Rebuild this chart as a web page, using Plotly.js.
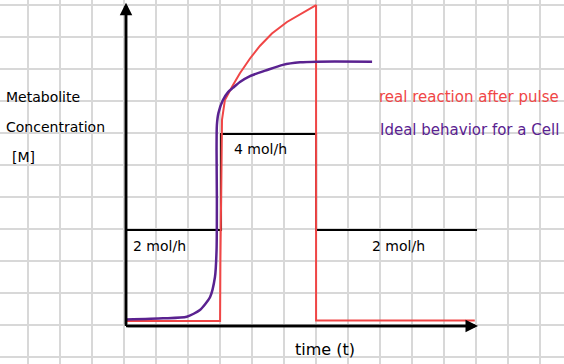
<!DOCTYPE html>
<html>
<head>
<meta charset="utf-8">
<script src="https://cdn.plot.ly/plotly-3.0.1.min.js"></script>
<style>html,body{margin:0;padding:0;background:#fff;}#chart{width:564px;height:364px;}</style>
</head>
<body>
<div id="chart"></div>
<script>
// time in grid units, concentration in grid units
const realTime = [0, 2.94, 2.95, 2.97, 3.0, 3.09, 3.22, 3.34, 3.56, 3.875, 4.19, 4.56, 5.03, 5.44, 5.94, 5.94, 10.9];
const realConc = [0.16, 0.16, 2.0, 3.94, 6.44, 7.06, 7.31, 7.52, 7.9, 8.36, 8.76, 9.14, 9.5, 9.75, 10.03, 0.17, 0.17];

const idealTime = [0, 1.16, 1.9, 2.31, 2.625, 2.78, 2.83, 2.84, 2.83, 2.84, 2.89, 3.03, 3.19, 3.34, 3.56, 3.875, 4.41, 4.9, 5.44, 5.97, 7.69];
const idealConc = [0.2, 0.24, 0.29, 0.5, 0.9, 1.53, 2.375, 3.94, 5.5, 6.28, 6.66, 7.06, 7.31, 7.44, 7.625, 7.81, 8.0, 8.16, 8.24, 8.26, 8.26];

const feedTime = [0, 2.97, 2.97, 5.94, 5.94, 10.97];
const feedLevel = [3.0, 3.0, 6.0, 6.0, 3.0, 3.0];

const feedLabels = ["2 mol/h", "4 mol/h", "2 mol/h"];
const seriesNames = ["real reaction after pulse", "Ideal behavior for a Cell"];
const yLabelLines = ["Metabolite", "Concentration", "[M]"];
const xLabel = "time (t)";

const RED = "#f04646";
const PURPLE = "#5a2290";
const FONT = "'DejaVu Sans', sans-serif";

const traces = [
  {x: feedTime, y: feedLevel, mode: "lines", line: {color: "#000", width: 2}, hoverinfo: "skip"},
  {x: realTime, y: realConc, mode: "lines", line: {color: RED, width: 2}, hoverinfo: "skip"},
  {x: idealTime, y: idealConc, mode: "lines", line: {color: PURPLE, width: 2.5, shape: "spline", smoothing: 0.6}, hoverinfo: "skip"}
];

const ann = [];
// axes arrows
ann.push({x: 11.0, y: 0, ax: 0, ay: 0, axref: "x", ayref: "y", xref: "x", yref: "y", showarrow: true, arrowhead: 2, arrowsize: 1, arrowwidth: 2.5, arrowcolor: "#000", text: ""});
ann.push({x: 0, y: 10.1, ax: 0, ay: 0, axref: "x", ayref: "y", xref: "x", yref: "y", showarrow: true, arrowhead: 2, arrowsize: 1, arrowwidth: 2.5, arrowcolor: "#000", text: ""});
// y label
const yl = [[-3.8, 7.16], [-3.8, 6.22], [-3.64, 5.28]];
yLabelLines.forEach((t, i) => ann.push({x: yl[i][0], y: yl[i][1], xref: "x", yref: "y", text: t, showarrow: false, xanchor: "left", font: {family: FONT, size: 14, color: "#000"}}));
// legend labels
ann.push({x: 13.6, y: 7.16, xref: "x", yref: "y", text: seriesNames[0], showarrow: false, xanchor: "right", font: {family: FONT, size: 15, color: RED}});
ann.push({x: 13.6, y: 6.125, xref: "x", yref: "y", text: seriesNames[1], showarrow: false, xanchor: "right", font: {family: FONT, size: 15, color: PURPLE}});
// feed labels
const fl = [[1.06, 2.5], [4.19, 5.53], [8.5, 2.5]];
feedLabels.forEach((t, i) => ann.push({x: fl[i][0], y: fl[i][1], xref: "x", yref: "y", text: t, showarrow: false, font: {family: FONT, size: 14, color: "#000"}}));
ann.push({x: 6.22, y: -0.72, xref: "x", yref: "y", text: xLabel, showarrow: false, font: {family: FONT, size: 16, color: "#000"}});

const layout = {
  width: 564, height: 364,
  margin: {l: 0, r: 0, t: 0, b: 0, pad: 0},
  paper_bgcolor: "#fff", plot_bgcolor: "#fff",
  showlegend: false,
  xaxis: {range: [-3.9375, 13.6875], tick0: -0.0625, dtick: 1, showgrid: true, gridcolor: "#d8d8d8", gridwidth: 1.5, zeroline: false, showticklabels: false, ticks: "", showline: false, fixedrange: true},
  yaxis: {range: [-1.1875, 10.1875], tick0: 0.03125, dtick: 1, showgrid: true, gridcolor: "#d8d8d8", gridwidth: 1.5, zeroline: false, showticklabels: false, ticks: "", showline: false, fixedrange: true},
  shapes: [
    {type: "line", xref: "x", yref: "y", x0: 0, x1: 0, y0: 0, y1: 10.0, line: {color: "#000", width: 2.5}},
    {type: "line", xref: "x", yref: "y", x0: 0, x1: 10.9, y0: 0, y1: 0, line: {color: "#000", width: 2.5}}
  ],
  annotations: ann
};

Plotly.newPlot("chart", traces, layout, {staticPlot: true, displayModeBar: false});
</script>
</body>
</html>
